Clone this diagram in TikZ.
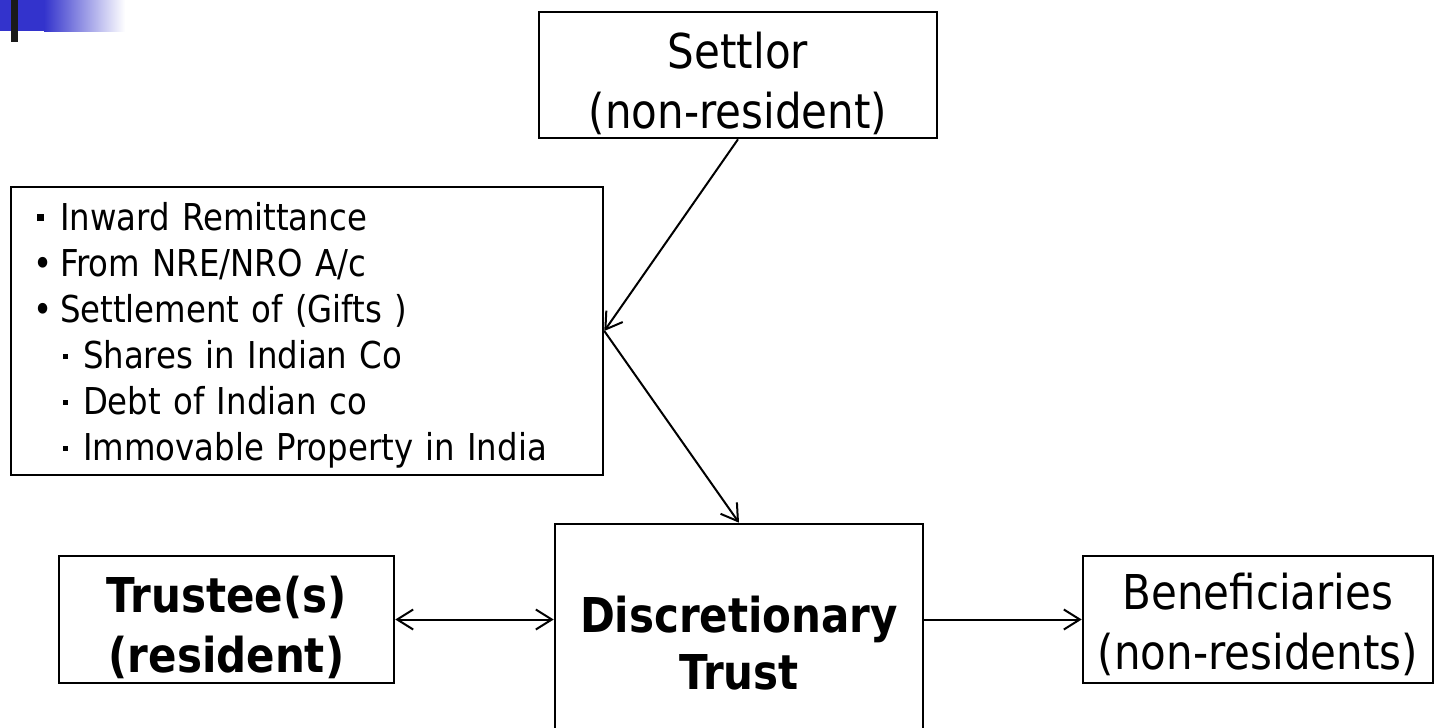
\documentclass[tikz,border=0pt]{standalone}
\usepackage{fontspec}
\setmainfont{DejaVu Sans}[FakeStretch=0.875]
\usepackage{tikz}
\usetikzlibrary{arrows.meta}

\definecolor{slideblue}{RGB}{51,51,204}
\definecolor{slidebar}{RGB}{26,26,26}

\begin{document}
\begin{tikzpicture}[
    x=0.5pt, y=-0.5pt,
    party/.style={draw, line width=1.3pt, rectangle, align=center, inner sep=0pt, font=\fontsize{24}{30}\selectfont},
    bigparty/.style={party, font=\bfseries\fontsize{24}{30}\selectfont},
    assets/.style={draw, line width=1.3pt, rectangle, align=left, inner xsep=13pt, inner ysep=0pt, text width=270pt, minimum width=296pt, minimum height=144pt, font=\fontsize{18.5}{23}\selectfont},
    arrow/.style={-{Straight Barb[length=8pt, width=10pt]}, line width=1pt},
    biarrow/.style={{Straight Barb[length=8pt, width=10pt]}-{Straight Barb[length=8pt, width=10pt]}, line width=1pt}
  ]

  \useasboundingbox (0,0) rectangle (1435,728);
  \clip (0,0) rectangle (1435,728);

  % slide corner
  \fill[slideblue] (0,0) rectangle (44,31);
  \shade[left color=slideblue, right color=white] (44,0) rectangle (125,31);
  \fill[slidebar] (11,0) rectangle (18,42);

  % settlor
  \node[party, minimum width=199pt, minimum height=63pt] (settlor) at (738,75) {\rule{0pt}{27pt}Settlor\\(non-resident)};

  % what is settled
  \node[assets] (assets) at (307,331) {%
    \rule{0pt}{18pt}\makebox[11.5pt][l]{\rule[4.5pt]{3.5pt}{3.5pt}}Inward Remittance\\
    \makebox[11.5pt][l]{\hspace*{-2pt}•}From NRE/NRO A/c\\
    \makebox[11.5pt][l]{\hspace*{-2pt}•}Settlement of (Gifts )\\
    \hspace*{13pt}\makebox[10pt][l]{\rule[4.75pt]{2.5pt}{2.5pt}}Shares in Indian Co\\
    \hspace*{13pt}\makebox[10pt][l]{\rule[4.75pt]{2.5pt}{2.5pt}}Debt of Indian co\\
    \hspace*{13pt}\makebox[10pt][l]{\rule[4.75pt]{2.5pt}{2.5pt}}Immovable Property in India};

  % trust and the parties round it
  \node[bigparty, minimum width=184pt, minimum height=119.5pt, font=\bfseries\fontsize{24}{28.5}\selectfont] (trust) at (739,643.5) {Discretionary\\Trust};
  \node[bigparty, minimum width=167.5pt, minimum height=63.5pt] (trustee) at (226.5,619.5) {\rule{0pt}{26pt}Trustee(s)\\(resident)};
  \node[party, minimum width=175pt, minimum height=63.5pt] (benef) at (1258,619.5) {\rule{0pt}{23.5pt}Beneficiaries\\(non-residents)};

  % edges
  \draw[arrow] (settlor.south) -- (assets.east);
  \draw[arrow] (assets.east) -- (trust.north);
  \draw[biarrow] (trustee.east) -- (trustee.east -| trust.west);
  \draw[arrow] (trust.east |- benef.west) -- (benef.west);

\end{tikzpicture}
\end{document}
